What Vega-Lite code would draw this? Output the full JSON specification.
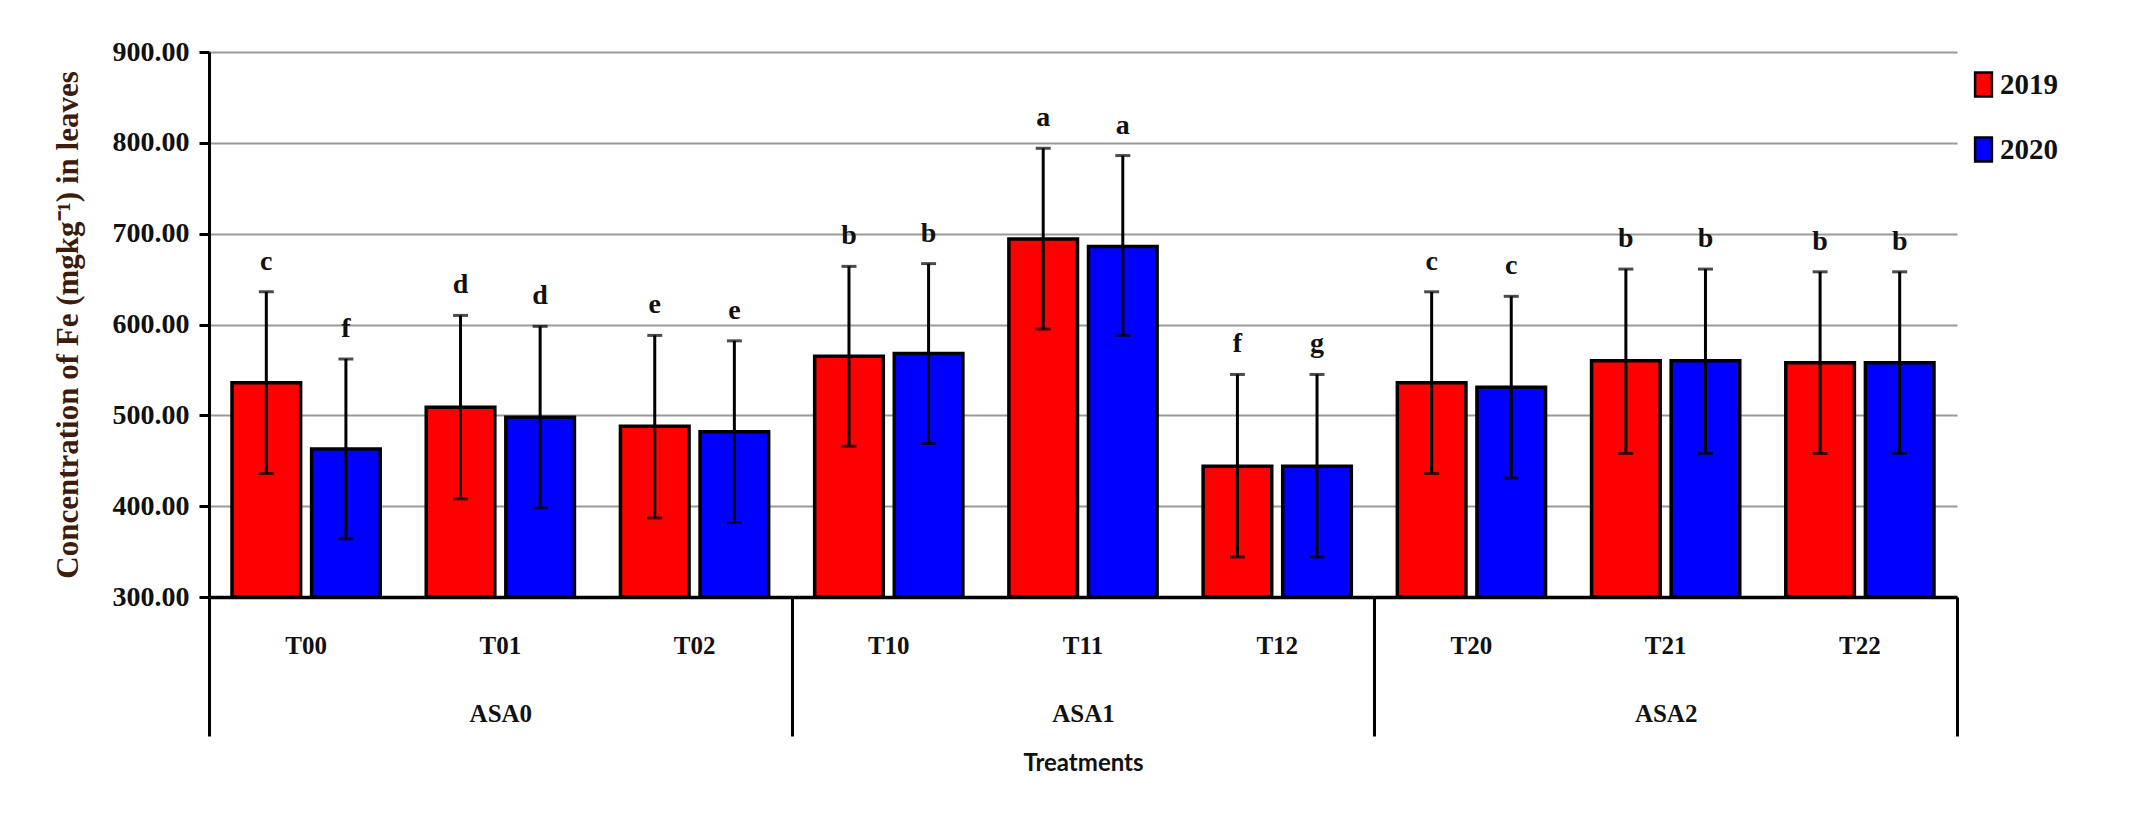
{
  "$schema": "https://vega.github.io/schema/vega-lite/v6.json",
  "width": 1748,
  "height": 545,
  "autosize": "none",
  "padding": {"left": 209, "top": 52, "right": 191, "bottom": 240},
  "background": "white",
  "config": {"view": {"stroke": null}, "font": "Liberation Serif"},
  "data": {
    "values": [
      {"treatment": "T00", "year": "2019", "value": 536, "lower": 436, "upper": 636, "letter": "c"},
      {"treatment": "T00", "year": "2020", "value": 463, "lower": 364, "upper": 562, "letter": "f"},
      {"treatment": "T01", "year": "2019", "value": 509, "lower": 408, "upper": 610, "letter": "d"},
      {"treatment": "T01", "year": "2020", "value": 498, "lower": 398, "upper": 598, "letter": "d"},
      {"treatment": "T02", "year": "2019", "value": 488, "lower": 387, "upper": 588, "letter": "e"},
      {"treatment": "T02", "year": "2020", "value": 482, "lower": 382, "upper": 582, "letter": "e"},
      {"treatment": "T10", "year": "2019", "value": 565, "lower": 466, "upper": 664, "letter": "b"},
      {"treatment": "T10", "year": "2020", "value": 568, "lower": 469, "upper": 667, "letter": "b"},
      {"treatment": "T11", "year": "2019", "value": 694, "lower": 595, "upper": 794, "letter": "a"},
      {"treatment": "T11", "year": "2020", "value": 686, "lower": 588, "upper": 786, "letter": "a"},
      {"treatment": "T12", "year": "2019", "value": 444, "lower": 344, "upper": 545, "letter": "f"},
      {"treatment": "T12", "year": "2020", "value": 444, "lower": 344, "upper": 545, "letter": "g"},
      {"treatment": "T20", "year": "2019", "value": 536, "lower": 436, "upper": 636, "letter": "c"},
      {"treatment": "T20", "year": "2020", "value": 531, "lower": 431, "upper": 631, "letter": "c"},
      {"treatment": "T21", "year": "2019", "value": 560, "lower": 458, "upper": 661, "letter": "b"},
      {"treatment": "T21", "year": "2020", "value": 560, "lower": 458, "upper": 661, "letter": "b"},
      {"treatment": "T22", "year": "2019", "value": 558, "lower": 458, "upper": 658, "letter": "b"},
      {"treatment": "T22", "year": "2020", "value": 558, "lower": 458, "upper": 658, "letter": "b"}
    ]
  },
  "resolve": {"axis": {"x": "independent"}},
  "layer": [
    {
      "mark": {"type": "bar", "stroke": "black", "strokeWidth": 3.5},
      "encoding": {
        "x": {
          "field": "treatment", "type": "nominal", "sort": null,
          "scale": {"paddingInner": 0, "paddingOuter": 0},
          "axis": {
            "orient": "bottom", "title": null, "domainColor": "black", "domainWidth": 3.5,
            "ticks": false, "grid": false, "labelPadding": 36, "labelAngle": 0,
            "labelFont": "Liberation Serif", "labelFontWeight": "bold", "labelFontSize": 25, "labelColor": "#111111"
          }
        },
        "xOffset": {"field": "year", "type": "nominal", "scale": {"paddingInner": 0.138, "paddingOuter": 0.289}},
        "y": {
          "field": "value", "type": "quantitative",
          "scale": {"domain": [300, 900], "zero": false, "nice": false},
          "axis": {
            "title": "Concentration of Fe (mgkg⁻¹) in leaves",
            "values": [300, 400, 500, 600, 700, 800, 900], "format": ".2f",
            "grid": true, "gridColor": "#999999", "gridWidth": 2,
            "domainColor": "black", "domainWidth": 3, "tickColor": "black", "tickWidth": 3, "tickSize": 10,
            "labelPadding": 10, "labelFont": "Liberation Serif", "labelFontSize": 28, "labelFontWeight": "bold", "labelColor": "#111111",
            "titleFont": "Liberation Serif", "titleFontSize": 31, "titleFontWeight": "bold", "titleColor": "#3d1c0b", "titlePadding": 28
          }
        },
        "y2": {"datum": 300},
        "color": {
          "field": "year", "type": "nominal",
          "scale": {"domain": ["2019", "2020"], "range": ["#ff0000", "#0000ff"]},
          "legend": {
            "title": null, "orient": "none", "legendX": 1760, "legendY": 18,
            "symbolType": "M-0.7,-1H0.7V1H-0.7Z", "symbolSize": 576,
            "symbolStrokeColor": "black", "symbolStrokeWidth": 2.5, "symbolOpacity": 1,
            "labelFont": "Liberation Serif", "labelFontSize": 29, "labelFontWeight": "bold", "labelColor": "#111111",
            "labelOffset": 2, "rowPadding": 30, "padding": 0
          }
        }
      }
    },
    {
      "mark": {"type": "rule", "color": "black", "strokeWidth": 3},
      "encoding": {
        "x": {"field": "treatment", "type": "nominal", "sort": null, "axis": null},
        "xOffset": {"field": "year", "type": "nominal"},
        "y": {"field": "lower", "type": "quantitative"},
        "y2": {"field": "upper"}
      }
    },
    {
      "mark": {"type": "tick", "color": "black", "thickness": 3, "size": 15, "orient": "horizontal"},
      "encoding": {
        "x": {"field": "treatment", "type": "nominal", "sort": null, "axis": null},
        "xOffset": {"field": "year", "type": "nominal"},
        "y": {"field": "upper", "type": "quantitative"}
      }
    },
    {
      "mark": {"type": "tick", "color": "black", "thickness": 3, "size": 15, "orient": "horizontal"},
      "encoding": {
        "x": {"field": "treatment", "type": "nominal", "sort": null, "axis": null},
        "xOffset": {"field": "year", "type": "nominal"},
        "y": {"field": "lower", "type": "quantitative"}
      }
    },
    {
      "mark": {"type": "text", "baseline": "alphabetic", "dy": -22, "fontSize": 28, "fontWeight": "bold", "font": "Liberation Serif", "color": "#111111"},
      "encoding": {
        "x": {
          "field": "treatment", "type": "nominal", "sort": null,
          "axis": {
            "orient": "bottom", "domain": false, "grid": false,
            "tickBand": "extent", "tickSize": 139, "tickWidth": 3, "tickColor": "black",
            "tickOpacity": {"condition": {"test": "datum.value == null || datum.value == 'T02' || datum.value == 'T12' || datum.value == 'T22'", "value": 1}, "value": 0},
            "labelExpr": "datum.value == 'T01' ? 'ASA0' : datum.value == 'T11' ? 'ASA1' : datum.value == 'T21' ? 'ASA2' : ''",
            "labelPadding": -35, "labelAngle": 0, "labelFont": "Liberation Serif", "labelFontSize": 25, "labelFontWeight": "bold", "labelColor": "#111111",
            "title": "Treatments", "titleFont": "Lato", "titleFontSize": 24, "titleFontWeight": "bold", "titleColor": "#111111", "titlePadding": 14
          }
        },
        "xOffset": {"field": "year", "type": "nominal"},
        "y": {"field": "upper", "type": "quantitative"},
        "text": {"field": "letter"}
      }
    }
  ]
}
